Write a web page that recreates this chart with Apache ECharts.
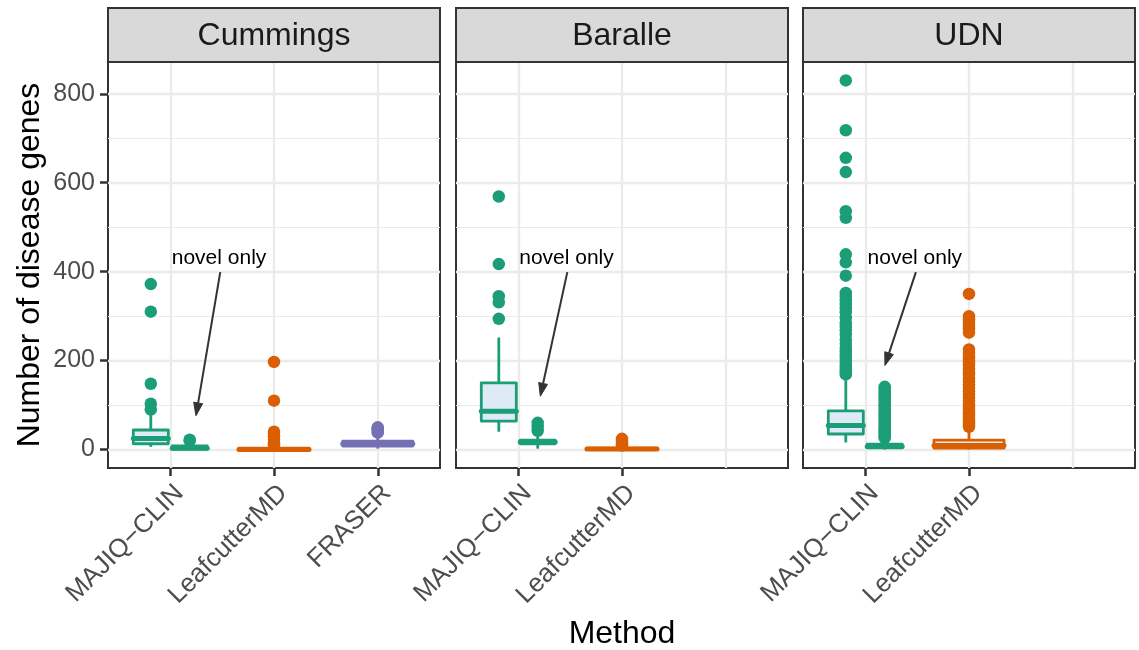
<!DOCTYPE html>
<html>
<head>
<meta charset="utf-8">
<script src="https://cdn.jsdelivr.net/npm/echarts@6/dist/echarts.min.js"></script>
<style>
  html, body { margin: 0; padding: 0; background: #ffffff; }
  #chart { width: 1139px; height: 650px; }
</style>
</head>
<body>
<div id="chart"></div>
<script>
// ---- data ----------------------------------------------------------------
const cohorts = ['Cummings', 'Baralle', 'UDN'];
const methods = ['MAJIQ\u2212CLIN', 'LeafcutterMD', 'FRASER'];
const labelledSlots = [[1, 2, 3], [1, 2], [1, 2]];
const yTicks = [0, 200, 400, 600, 800];
const yMinor = [100, 300, 500, 700];
const xSlots = [1, 2, 3];

// box summaries: [lower whisker, Q1, median, Q3, upper whisker]
const cummingsMajiq = [6, 13, 25, 44, 78];
const cummingsMajiqOut = [372, 310, 148, 103, 90];
const cummingsNovel = [0, 1, 3, 8, 17];
const cummingsNovelOut = [22, 20];
const cummingsLeaf = [0, 0, 0, 3, 7];
const cummingsLeafOut = [197, 110, 40, 36, 30, 22, 16, 12, 9];
const cummingsFraser = [2, 8, 13, 19, 34];
const cummingsFraserOut = [50, 47, 44, 40, 38];

const baralleMajiq = [40, 64, 86, 150, 252];
const baralleMajiqOut = [569, 417, 345, 331, 294];
const baralleNovel = [2, 13, 17, 21, 32];
const baralleNovelOut = [60, 51, 42];
const baralleLeaf = [0, 0, 1, 3, 7];
const baralleLeafOut = [24, 19, 15, 11, 9];

const udnMajiq = [16, 35, 54, 87, 159];
const udnMajiqOut = [830, 718, 656, 624, 536, 521, 439, 421, 391, 352, 345, 336, 327,
  318, 309, 296, 284, 276, 268, 258, 247, 238, 229, 221, 214, 207, 199, 193, 186, 180, 174, 169];
const udnNovel = [0, 4, 7, 12, 23];
const udnNovelOut = [141, 137, 131, 126, 121, 117, 112, 106, 101, 97, 92, 86, 82, 77, 72,
  67, 63, 58, 54, 49, 45, 41, 37, 33, 29, 26];
const udnLeaf = [0, 3, 9, 21, 45];
const udnLeafOut = [350, 300, 293, 286, 279, 271, 263, 225, 218, 211, 204, 197, 190, 182,
  175, 168, 160, 153, 146, 139, 131, 124, 117, 110, 103, 96, 90, 84, 78, 72, 66, 60, 55, 51];

// "novel only" callout per panel, in data units: [textX, textY, fromX, fromY, toX, toY]
const noteLabel = 'novel only';
const noteCummings = [1.47, 430, 1.482, 399, 1.248, 76];
const noteBaralle = [1.465, 430, 1.473, 399, 1.213, 120];
const noteUdn = [1.478, 430, 1.488, 399, 1.19, 189];

// ---- layout & style --------------------------------------------------------
const FONT = '"Liberation Sans", Arial, Helvetica, sans-serif';
const PALETTE = ['#1B9E77', '#D95F02', '#7570B3'];
const BOX_FILL = '#DEEBF7';
const GRID_COLOR = '#EBEBEB';
const INK = '#333333';
const PANEL_LEFT = [108, 456, 803];
const PANEL_TOP = 62;
const PANEL_W = 332;
const PANEL_H = 406;
const STRIP_TOP = 8;
const DODGE = 0.1875;       // centre offset of the two dodged MAJIQ-CLIN boxes
const HALF_DODGED = 0.16875;
const HALF_SINGLE = 0.3375;
const Y_MIN = -41.5, Y_MAX = 871.5;

// panel, x slot, dodge side (-1 left, +1 right, 0 none), colour index, stats, outliers
const boxes = [
  [0, 1, -1, 0, cummingsMajiq, cummingsMajiqOut],
  [0, 1, 1, 0, cummingsNovel, cummingsNovelOut],
  [0, 2, 0, 1, cummingsLeaf, cummingsLeafOut],
  [0, 3, 0, 2, cummingsFraser, cummingsFraserOut],
  [1, 1, -1, 0, baralleMajiq, baralleMajiqOut],
  [1, 1, 1, 0, baralleNovel, baralleNovelOut],
  [1, 2, 0, 1, baralleLeaf, baralleLeafOut],
  [2, 1, -1, 0, udnMajiq, udnMajiqOut],
  [2, 1, 1, 0, udnNovel, udnNovelOut],
  [2, 2, 0, 1, udnLeaf, udnLeafOut]
];
const notes = [noteCummings, noteBaralle, noteUdn];

function boxRenderer(halfWidth, color) {
  return function (params, api) {
    const x = api.value(0);
    const lo = api.coord([x, api.value(1)]);
    const q1 = api.coord([x, api.value(2)]);
    const md = api.coord([x, api.value(3)]);
    const q3 = api.coord([x, api.value(4)]);
    const hi = api.coord([x, api.value(5)]);
    const left = api.coord([x - halfWidth, 0])[0];
    const right = api.coord([x + halfWidth, 0])[0];
    const cx = lo[0];
    const stroke = { stroke: color, lineWidth: 2.8, lineCap: 'butt' };
    return {
      type: 'group',
      children: [
        { type: 'line', shape: { x1: cx, y1: q3[1], x2: cx, y2: hi[1] }, style: stroke },
        { type: 'line', shape: { x1: cx, y1: q1[1], x2: cx, y2: lo[1] }, style: stroke },
        {
          type: 'rect',
          shape: { x: left, y: q3[1], width: right - left, height: q1[1] - q3[1] },
          style: { fill: BOX_FILL, stroke: color, lineWidth: 2.8, lineJoin: 'round' }
        },
        {
          type: 'line',
          shape: { x1: left, y1: md[1], x2: right, y2: md[1] },
          style: { stroke: color, lineWidth: 5, lineCap: 'round' }
        }
      ]
    };
  };
}

function renderNote(params, api) {
  const t = api.coord([api.value(0), api.value(1)]);
  const a = api.coord([api.value(2), api.value(3)]);
  const b = api.coord([api.value(4), api.value(5)]);
  const ang = Math.atan2(b[1] - a[1], b[0] - a[0]);
  const len = 13, wid = 4.5;
  const base = [b[0] - len * Math.cos(ang), b[1] - len * Math.sin(ang)];
  const p1 = [base[0] + wid * Math.sin(ang), base[1] - wid * Math.cos(ang)];
  const p2 = [base[0] - wid * Math.sin(ang), base[1] + wid * Math.cos(ang)];
  return {
    type: 'group',
    children: [
      {
        type: 'text',
        style: {
          text: noteLabel, x: t[0], y: t[1], align: 'center', verticalAlign: 'middle',
          fontSize: 21, fontFamily: FONT, fill: '#000000'
        }
      },
      { type: 'line', shape: { x1: a[0], y1: a[1], x2: base[0], y2: base[1] }, style: { stroke: INK, lineWidth: 2 } },
      { type: 'polygon', shape: { points: [b, p1, p2] }, style: { fill: INK, stroke: INK, lineWidth: 1 } }
    ]
  };
}

const grids = [], xAxes = [], yAxes = [], series = [], graphics = [];

cohorts.forEach(function (name, i) {
  grids.push({
    left: PANEL_LEFT[i], top: PANEL_TOP, width: PANEL_W, height: PANEL_H,
    outerBoundsMode: 'none', containLabel: false,
    show: true, backgroundColor: '#ffffff', borderColor: INK, borderWidth: 2
  });
  xAxes.push({
    type: 'value', gridIndex: i, min: 0.4, max: 3.6, position: 'bottom',
    axisLine: { show: false, onZero: false },
    splitLine: { show: false },
    axisTick: {
      show: true, length: 8, customValues: labelledSlots[i],
      lineStyle: { color: INK, width: 2.5 }
    },
    axisLabel: {
      show: true, customValues: labelledSlots[i], rotate: 45, margin: 12,
      align: 'right', verticalAlign: 'top',
      fontSize: 26, fontFamily: FONT, color: '#4D4D4D',
      formatter: function (v) { return methods[Math.round(v) - 1]; }
    },
    name: i === 1 ? 'Method' : '',
    nameLocation: 'middle', nameGap: 150,
    nameTextStyle: { fontSize: 32, fontFamily: FONT, color: '#000000' }
  });
  yAxes.push({
    type: 'value', gridIndex: i, min: Y_MIN, max: Y_MAX, position: 'left',
    axisLine: { show: false, onZero: false },
    splitLine: { show: false },
    axisTick: {
      show: i === 0, length: 8, customValues: yTicks,
      lineStyle: { color: INK, width: 2.5 }
    },
    axisLabel: {
      show: i === 0, customValues: yTicks, margin: 13,
      fontSize: 25, fontFamily: FONT, color: '#4D4D4D'
    },
    name: i === 0 ? 'Number of disease genes' : '',
    nameLocation: 'middle', nameGap: 62,
    nameTextStyle: { fontSize: 32, fontFamily: FONT, color: '#000000' }
  });

  // callout with the panel's grid lines attached underneath
  series.push({
    type: 'custom', xAxisIndex: i, yAxisIndex: i, z: 6, silent: true,
    renderItem: renderNote,
    data: [notes[i]],
    markLine: {
      silent: true, symbol: 'none', z: 1, animation: false,
      label: { show: false },
      emphasis: { disabled: true },
      data: []
        .concat(yMinor.map(function (v) { return { yAxis: v, lineStyle: { color: GRID_COLOR, width: 1.2, type: 'solid' } }; }))
        .concat(yTicks.map(function (v) { return { yAxis: v, lineStyle: { color: GRID_COLOR, width: 2.3, type: 'solid' } }; }))
        .concat(xSlots.map(function (v) { return { xAxis: v, lineStyle: { color: GRID_COLOR, width: 2.3, type: 'solid' } }; }))
    }
  });

  graphics.push({
    type: 'rect', z: 10,
    shape: { x: PANEL_LEFT[i], y: STRIP_TOP, width: PANEL_W, height: PANEL_TOP - STRIP_TOP },
    style: { fill: '#D9D9D9', stroke: INK, lineWidth: 2 }
  });
  graphics.push({
    type: 'text', z: 11,
    x: PANEL_LEFT[i] + PANEL_W / 2, y: (STRIP_TOP + PANEL_TOP) / 2 + 1,
    style: {
      text: name, align: 'center', verticalAlign: 'middle',
      fontSize: 32, fontFamily: FONT, fill: '#1A1A1A'
    }
  });
});

boxes.forEach(function (b) {
  const panel = b[0], slot = b[1], side = b[2], color = PALETTE[b[3]];
  const x = slot + side * DODGE;
  const half = side === 0 ? HALF_SINGLE : HALF_DODGED;
  series.push({
    type: 'scatter', xAxisIndex: panel, yAxisIndex: panel, z: 2, silent: true,
    symbol: 'circle', symbolSize: 12.5,
    itemStyle: { color: color, opacity: 1 },
    data: b[5].map(function (v) { return [x, v]; })
  });
  series.push({
    type: 'custom', xAxisIndex: panel, yAxisIndex: panel, z: 3, silent: true,
    renderItem: boxRenderer(half, color),
    encode: { x: 0, y: [1, 2, 3, 4, 5] },
    data: [[x].concat(b[4])]
  });
});

const chart = echarts.init(document.getElementById('chart'), null, { renderer: 'canvas' });
chart.setOption({
  animation: false,
  backgroundColor: '#ffffff',
  textStyle: { fontFamily: FONT },
  grid: grids,
  xAxis: xAxes,
  yAxis: yAxes,
  series: series,
  graphic: graphics
});
</script>
</body>
</html>
